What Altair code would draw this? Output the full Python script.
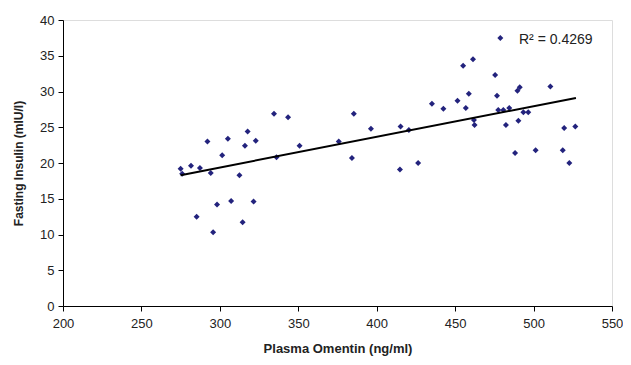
import altair as alt
import pandas as pd

# Scatter data
omentin = [275, 276, 281.6, 287.3, 294.2, 292.1, 301.5, 305.1, 312.5, 316,
           317.7, 322.9, 334.5, 343.5, 336.1, 350.8, 375.8, 384.2, 385.4, 285.2,
           298.2, 307.2, 321.5, 314.5, 295.7, 396.3, 415.2, 420.5, 414.8, 426.4,
           435.2, 442.5, 451.5, 456.8, 458.7, 455.1, 461.4, 462.0, 462.4, 475.5,
           476.7, 477.5, 480.7, 484.5, 482.4, 490.3, 489.7, 491.2, 493.5, 496.6,
           488.2, 501.3, 510.7, 519.5, 526.6, 518.6, 522.8, 478.8]
insulin = [19.2, 18.5, 19.6, 19.3, 18.6, 23.0, 21.1, 23.4, 18.3, 22.4,
           24.4, 23.1, 26.9, 26.4, 20.8, 22.4, 23.0, 20.7, 26.9, 12.5,
           14.2, 14.7, 14.6, 11.7, 10.3, 24.8, 25.1, 24.6, 19.1, 20.0,
           28.3, 27.6, 28.7, 27.7, 29.7, 33.6, 34.5, 26.0, 25.3, 32.3,
           29.4, 27.4, 27.4, 27.7, 25.3, 25.9, 30.1, 30.6, 27.1, 27.1,
           21.4, 21.8, 30.7, 24.9, 25.1, 21.8, 20.0, 37.5]

# Trend line endpoints
trend_x = [275, 527]
trend_y = [18.3, 29.1]

# Annotation
label_x = [490.7]
label_y = [37.2]
label_text = ["R\u00b2 = 0.4269"]

x_ticks = [200, 250, 300, 350, 400, 450, 500, 550]
y_ticks = [0, 5, 10, 15, 20, 25, 30, 35, 40]

pts = pd.DataFrame({"x": omentin, "y": insulin})
trend = pd.DataFrame({"x": trend_x, "y": trend_y})
lab = pd.DataFrame({"x": label_x, "y": label_y, "t": label_text})

FONT = "Liberation Sans"

xscale = alt.Scale(domain=[200, 550], nice=False, zero=False)
yscale = alt.Scale(domain=[0, 40], nice=False)

xaxis = alt.Axis(values=x_ticks, title="Plasma Omentin (ng/ml)", grid=False,
                 domainColor="black", tickColor="black", tickSize=5,
                 labelFont=FONT, labelFontSize=13, labelColor="#222",
                 labelPadding=6, titleFont=FONT, titleFontSize=13,
                 titleFontWeight="bold", titleColor="#222", titlePadding=12,
                 labelOverlap=False, labelBound=False, labelFlush=False)
yaxis = alt.Axis(values=y_ticks, title="Fasting Insulin (mIU/l)", grid=False,
                 domainColor="black", tickColor="black", tickSize=5,
                 labelFont=FONT, labelFontSize=13, labelColor="#222",
                 labelPadding=4, titleFont=FONT, titleFontSize=12,
                 titleFontWeight="bold", titleColor="#222", titlePadding=14,
                 labelOverlap=False, tickCount=9)

X = alt.X("x:Q", scale=xscale, axis=xaxis)
Y = alt.Y("y:Q", scale=yscale, axis=yaxis)

points = alt.Chart(pts).mark_point(shape="diamond", filled=True, size=36,
                                   color="#23237d", opacity=1).encode(x=X, y=Y)

line = alt.Chart(trend).mark_line(color="black", strokeWidth=2).encode(x=X, y=Y)

text = alt.Chart(lab).mark_text(align="left", baseline="middle", font=FONT,
                                fontSize=14, color="#222").encode(
    x=X, y=Y, text="t:N",
)

chart = alt.layer(points, line, text).properties(
    width=549, height=286,
    autosize=alt.AutoSizeParams(type="none"),
    padding={"left": 55, "top": 12, "right": 11, "bottom": 51},
).configure_view(stroke="#999999", strokeWidth=1).configure(background="white")

chart.save("out.html", embed_options={"renderer": "svg", "actions": False})
